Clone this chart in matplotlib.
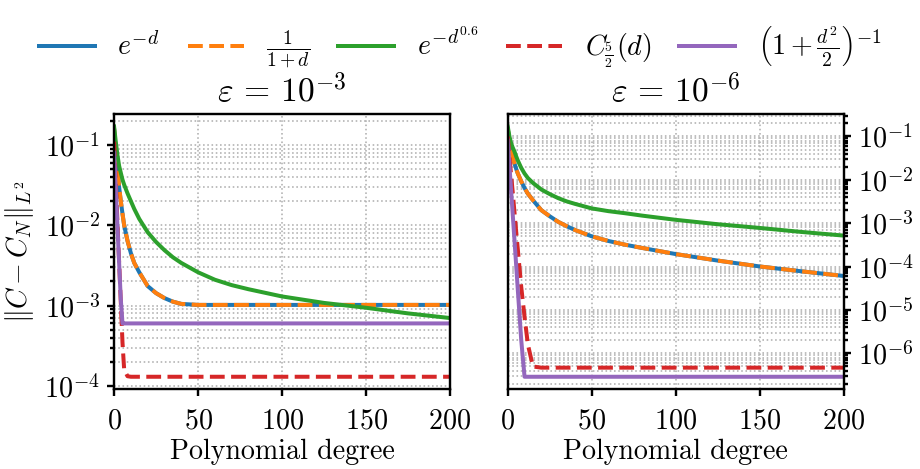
import matplotlib
matplotlib.use('Agg')
import matplotlib.pyplot as plt
from matplotlib.ticker import LogLocator, NullFormatter

degrees = [0, 1, 2, 3, 4, 5, 6, 8, 10, 12, 15, 20, 25, 30, 35, 40,
           50, 60, 70, 80, 100, 125, 150, 175, 200]

# ---- eps = 1e-3
exp_eps3 = [0.16, 0.085, 0.05, 0.03, 0.020, 0.014, 0.010, 0.0064, 0.0045, 0.0034,
            0.0026, 0.00175, 0.00143, 0.00124, 0.00112, 0.00105, 0.00102, 0.00102,
            0.00102, 0.00102, 0.00102, 0.00102, 0.00102, 0.00102, 0.00102]
rat_eps3 = [0.16, 0.085, 0.05, 0.03, 0.020, 0.014, 0.010, 0.0064, 0.0045, 0.0034,
            0.0026, 0.00175, 0.00143, 0.00124, 0.00112, 0.00105, 0.00102, 0.00102,
            0.00102, 0.00102, 0.00102, 0.00102, 0.00102, 0.00102, 0.00102]
str_eps3 = [0.17, 0.11, 0.075, 0.055, 0.045, 0.037, 0.032, 0.025, 0.020, 0.016,
            0.012, 0.0082, 0.0062, 0.0049, 0.0040, 0.0034, 0.0026, 0.0021,
            0.0018, 0.0016, 0.0013, 0.00108, 0.00094, 0.0008, 0.00070]
wend_eps3 = [0.11, 0.035, 0.011, 0.0035, 0.0011, 0.00035, 0.00016, 0.000132, 0.00013,
             0.00013, 0.00013, 0.00013, 0.00013, 0.00013, 0.00013, 0.00013, 0.00013,
             0.00013, 0.00013, 0.00013, 0.00013, 0.00013, 0.00013, 0.00013, 0.00013]
cauchy_eps3 = [0.08, 0.028, 0.0097, 0.0034, 0.0012, 0.0006, 0.0006, 0.0006, 0.0006,
               0.0006, 0.0006, 0.0006, 0.0006, 0.0006, 0.0006, 0.0006, 0.0006,
               0.0006, 0.0006, 0.0006, 0.0006, 0.0006, 0.0006, 0.0006, 0.0006]

# ---- eps = 1e-6
exp_eps6 = [0.15, 0.08, 0.05, 0.033, 0.024, 0.018, 0.014, 0.0093, 0.0065, 0.0048,
            0.0034, 0.0020, 0.00145, 0.00108, 0.00086, 0.0007, 0.0005, 0.00039,
            0.00032, 0.00027, 0.000195, 0.000138, 0.000101, 0.000078, 0.000061]
rat_eps6 = [0.15, 0.08, 0.05, 0.033, 0.024, 0.018, 0.014, 0.0093, 0.0065, 0.0048,
            0.0034, 0.0020, 0.00145, 0.00108, 0.00086, 0.0007, 0.0005, 0.00039,
            0.00032, 0.00027, 0.000195, 0.000138, 0.000101, 0.000078, 0.000061]
str_eps6 = [0.17, 0.1, 0.07, 0.055, 0.045, 0.035, 0.028, 0.019, 0.014, 0.011,
            0.0085, 0.006, 0.0047, 0.0038, 0.0032, 0.0028, 0.0022, 0.0019,
            0.0017, 0.0015, 0.0012, 0.00095, 0.00078, 0.00063, 0.00052]
wend_eps6 = [0.1, 0.035, 0.013, 0.005, 0.0018, 0.00065, 0.00025, 3.5e-5, 7e-6, 1.6e-6,
             5.0e-7, 4.7e-7, 4.7e-7, 4.7e-7, 4.7e-7, 4.7e-7, 4.7e-7, 4.7e-7,
             4.7e-7, 4.7e-7, 4.7e-7, 4.7e-7, 4.7e-7, 4.7e-7, 4.7e-7]
cauchy_eps6 = [0.08, 0.0214, 0.0057, 0.00153, 0.00041, 0.00011, 2.9e-5, 2.1e-6, 2.9e-7,
               2.9e-7, 2.9e-7, 2.9e-7, 2.9e-7, 2.9e-7, 2.9e-7, 2.9e-7, 2.9e-7,
               2.9e-7, 2.9e-7, 2.9e-7, 2.9e-7, 2.9e-7, 2.9e-7, 2.9e-7, 2.9e-7]

labels = [r'$e^{-d}$', r'$\frac{1}{1+d}$', r'$e^{-d^{0.6}}$',
          r'$C_{\frac{5}{2}}(d)$', r'$\left(1+\frac{d^2}{2}\right)^{-1}$']
titles = [r'$\varepsilon\,=\,10^{-3}$', r'$\varepsilon\,=\,10^{-6}$']

plt.rcParams.update({
    'font.family': 'serif',
    'font.serif': ['cmr10'],
    'mathtext.fontset': 'cm',
    'axes.formatter.use_mathtext': True,
    'axes.unicode_minus': False,
    'font.size': 14,
    'axes.linewidth': 1.2,
})

fig, axes = plt.subplots(1, 2, figsize=(920 / 144, 469 / 144), dpi=144)
fig.subplots_adjust(left=0.124, right=0.917, bottom=0.17, top=0.757, wspace=0.172)

panels = [
    (exp_eps3, rat_eps3, str_eps3, wend_eps3, cauchy_eps3),
    (exp_eps6, rat_eps6, str_eps6, wend_eps6, cauchy_eps6),
]
styles = [('C0', '-'), ('C1', '--'), ('C2', '-'), ('C3', '--'), ('C4', '-')]

for ax, series, title in zip(axes, panels, titles):
    for vals, (col, ls), lab in zip(series, styles, labels):
        ax.plot(degrees, vals, color=col, linestyle=ls, linewidth=2.0, label=lab)
    ax.set_yscale('log')
    ax.yaxis.set_major_locator(LogLocator(base=10, numticks=20))
    ax.yaxis.set_minor_locator(LogLocator(base=10, subs=range(2, 10), numticks=20))
    ax.yaxis.set_minor_formatter(NullFormatter())
    ax.set_xlim(0, 200)
    ax.set_xticks([0, 50, 100, 150, 200])
    ax.grid(True, which='both', linestyle=':', color='#b0b0b0', linewidth=0.8)
    ax.set_title(title)
    ax.set_xlabel('Polynomial degree', labelpad=2)
    ax.tick_params(which='both', width=1.2)
    ax.tick_params(axis='x', pad=6)

axes[0].set_ylabel(r'$\|C - C_N\|_{L^2}$')
axes[1].yaxis.tick_right()

handles, labs = axes[0].get_legend_handles_labels()
fig.legend(handles, labs, loc='upper center', bbox_to_anchor=(0.5, 1.0), ncol=5,
           frameon=False, columnspacing=1.0, handletextpad=0.8, fontsize=14)

plt.savefig('out.png', dpi=144)
